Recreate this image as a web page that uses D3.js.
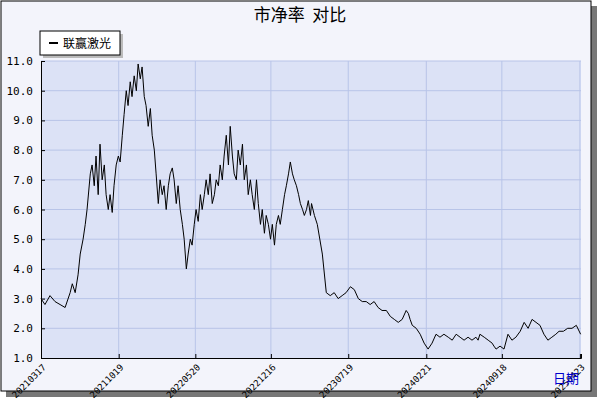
<!DOCTYPE html>
<html><head><meta charset="utf-8">
<script src="https://cdn.jsdelivr.net/npm/d3@7"></script>
<style>body{margin:0;background:#fff}text{font-family:"DejaVu Sans Mono",monospace}</style>
</head><body>
<svg id="chart" width="600" height="400"></svg>
<script>
// day offsets from 2021-03-17 and the P/B values
var days = [0,11,25,39,53,67,81,87,95,103,109,117,123,128,137,142,148,153,159,164,170,176,181,187,192,198,203,209,215,220,226,231,237,242,248,253,259,265,270,276,281,287,292,298,304,309,315,320,326,331,337,342,348,354,359,365,370,376,381,387,393,398,404,409,415,420,426,431,437,443,448,454,459,465,470,476,482,487,493,498,504,509,515,521,526,532,537,543,548,554,560,565,571,576,582,587,593,599,604,610,615,621,626,632,638,643,649,654,660,665,671,677,682,688,693,699,704,710,716,721,727,732,738,743,749,752,760,768,782,793,804,815,826,837,848,860,871,882,893,904,915,926,937,948,960,971,982,993,1004,1015,1021,1026,1032,1043,1054,1065,1076,1087,1098,1109,1120,1132,1143,1154,1165,1176,1187,1198,1209,1215,1220,1232,1243,1254,1259,1265,1276,1287,1298,1309,1320,1332,1343,1354,1365,1376,1387,1398,1409,1420,1431,1440,1452,1464,1476,1488,1500];
var values = [3.0,2.8,3.1,2.9,2.8,2.7,3.2,3.5,3.2,3.8,4.5,5.0,5.5,6.0,7.2,7.5,6.8,7.8,6.5,8.2,7.0,7.5,6.5,6.0,6.5,5.9,6.8,7.5,7.8,7.6,8.5,9.2,10.0,9.5,10.3,9.8,10.5,10.0,10.9,10.4,10.8,9.8,9.5,8.8,9.4,8.5,8.0,7.2,6.2,7.0,6.5,6.8,6.0,6.8,7.2,7.4,7.0,6.2,6.8,6.0,5.5,5.0,4.0,4.5,5.0,4.8,5.5,6.0,5.6,6.5,6.0,6.5,7.0,6.5,7.2,6.2,6.5,7.0,6.8,7.5,7.0,7.8,8.5,7.5,8.8,7.8,7.2,7.0,8.0,7.5,8.2,7.0,7.5,6.5,7.0,6.5,6.0,7.0,6.2,5.5,6.0,5.2,5.8,5.5,5.0,5.5,4.8,5.5,5.8,5.5,6.0,6.5,6.8,7.2,7.6,7.2,7.0,6.8,6.5,6.2,6.0,5.8,6.0,6.3,5.8,6.2,5.8,5.5,4.5,3.2,3.1,3.2,3.0,3.1,3.2,3.4,3.3,3.0,2.9,2.9,2.8,2.9,2.7,2.6,2.6,2.4,2.3,2.2,2.3,2.6,2.5,2.3,2.1,2.0,1.8,1.5,1.3,1.5,1.8,1.7,1.8,1.7,1.6,1.8,1.7,1.6,1.7,1.6,1.7,1.6,1.8,1.7,1.6,1.5,1.4,1.3,1.4,1.3,1.8,1.6,1.7,1.9,2.2,2.0,2.3,2.2,2.1,1.8,1.6,1.7,1.8,1.9,1.9,2.0,2.0,2.1,1.8,1.7,1.6,1.7];
var tickLabels = ["20210317","20211019","20220520","20221216","20230719","20240221","20240918","20250423"];
var yTicks = [1,2,3,4,5,6,7,8,9,10,11];

var parse = d3.timeParse("%Y%m%d");
var start = parse("20210317");
var data = days.map(function(d, i) { return {date: d3.timeDay.offset(start, d), v: values[i]}; });
var tickDates = tickLabels.map(parse);

var svg = d3.select("#chart");
// frame with shadow
svg.append("rect").attr("x", 6).attr("y", 6).attr("width", 591).attr("height", 391).attr("fill", "#777");
svg.append("rect").attr("x", 1).attr("y", 1).attr("width", 590).attr("height", 390).attr("fill", "#f3f4fb").attr("stroke", "#000");

var margin = {left: 41, top: 61, right: 581, bottom: 358};
var x = d3.scaleTime().domain([start, d3.timeDay.offset(start, 1501)]).range([margin.left, margin.right]);
var y = d3.scaleLinear().domain([1, 11]).range([margin.bottom, margin.top]);

svg.append("rect").attr("x", margin.left).attr("y", margin.top)
  .attr("width", margin.right - margin.left).attr("height", margin.bottom - margin.top).attr("fill", "#dce2f6");

// grid
svg.append("g").selectAll("line").data(yTicks.slice(1)).enter().append("line")
  .attr("x1", margin.left).attr("x2", margin.right)
  .attr("y1", function(d) { return y(d); }).attr("y2", function(d) { return y(d); })
  .attr("stroke", "#b8c4e8");
svg.append("g").selectAll("line").data(tickDates.slice(1)).enter().append("line")
  .attr("y1", margin.top).attr("y2", margin.bottom)
  .attr("x1", function(d) { return x(d); }).attr("x2", function(d) { return x(d); })
  .attr("stroke", "#b8c4e8");

// axes
var ya = svg.append("g").attr("transform", "translate(" + margin.left + ",0)")
  .call(d3.axisLeft(y).tickValues(yTicks).tickSize(-4).tickFormat(d3.format(".1f")));
ya.select(".domain").attr("stroke", "#000");
ya.selectAll("text").attr("x", -8).attr("font-size", 11).attr("font-family", "DejaVu Sans Mono");

var xa = svg.append("g").attr("transform", "translate(0," + margin.bottom + ")")
  .call(d3.axisBottom(x).tickValues(tickDates).tickSize(-4).tickFormat(function(d, i) { return tickLabels[i]; }));
xa.selectAll("text").attr("font-size", 9).attr("font-family", "DejaVu Sans Mono")
  .attr("text-anchor", "end").attr("x", 0).attr("y", 0).attr("dy", 0)
  .attr("transform", "translate(5,10) rotate(-45)");

// line
svg.append("path").datum(data).attr("fill", "none").attr("stroke", "#000").attr("stroke-width", 1)
  .attr("d", d3.line().x(function(d) { return x(d.date); }).y(function(d) { return y(d.v); }));

// title
svg.append("text").attr("x", 300).attr("y", 21).attr("text-anchor", "middle").style("white-space", "pre")
  .attr("font-size", 17).style("font-family", "Noto Sans CJK SC").text("市净率  对比");

// legend
svg.append("rect").attr("x", 43).attr("y", 34).attr("width", 80).attr("height", 24).attr("fill", "#bbb");
svg.append("rect").attr("x", 40).attr("y", 31).attr("width", 80).attr("height", 24).attr("fill", "#fff").attr("stroke", "#000");
svg.append("line").attr("x1", 49).attr("x2", 58).attr("y1", 43).attr("y2", 43).attr("stroke", "#000").attr("stroke-width", 2);
svg.append("text").attr("x", 63).attr("y", 48).attr("font-size", 12).style("font-family", "Noto Sans CJK SC").text("联赢激光");

svg.append("text").attr("x", 579).attr("y", 383).attr("text-anchor", "end").attr("fill", "#0000cc")
  .attr("font-size", 13).style("font-family", "Noto Sans CJK SC").text("日期");
</script>
</body></html>
